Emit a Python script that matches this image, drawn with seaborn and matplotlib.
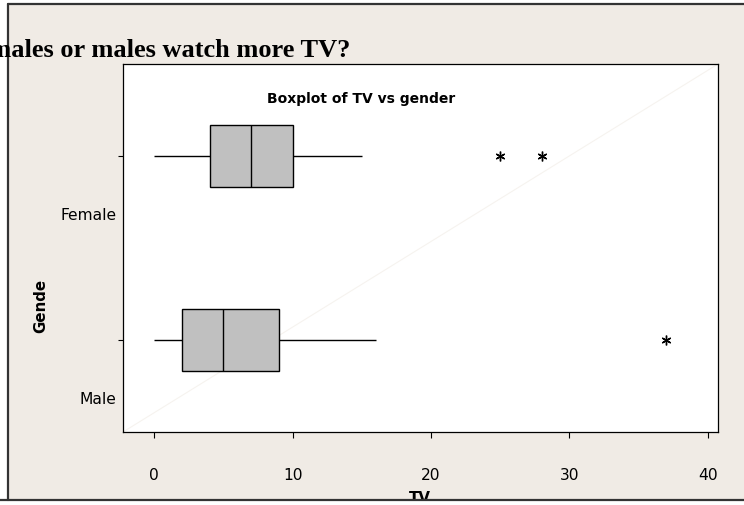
import numpy as np
import pandas as pd
import seaborn as sns
import matplotlib
matplotlib.use("Agg")
import matplotlib.pyplot as plt
from matplotlib.lines import Line2D
from matplotlib.patches import Rectangle

# ---- data ----
genders = ["Female", "Male"]
female_tv = [0, 2, 3, 4, 5, 6, 7, 8, 9, 10, 15, 25, 28]
male_tv = [0, 1, 1, 2, 3, 4, 5, 6, 8, 9, 12, 16, 37]
x_ticks = [0, 10, 20, 30, 40]

df = pd.DataFrame({
    "gender": ["Female"] * len(female_tv) + ["Male"] * len(male_tv),
    "TV": female_tv + male_tv,
})

sns.set_style("white")
plt.rcParams["font.family"] = ["DejaVu Sans"]
plt.rcParams["text.color"] = "black"

W, H = 744, 506
fig = plt.figure(figsize=(W / 100, H / 100), dpi=100)
fig.patch.set_facecolor("white")

def fx(px):
    return px / W

def fy(py):
    return 1 - py / H

# beige panel + frame
fig.patches.append(Rectangle((fx(8), fy(501)), 1 - fx(8), fy(5) - fy(501),
                             transform=fig.transFigure, facecolor="#f0ebe5",
                             edgecolor="none", zorder=-5))
fig.patches.append(Rectangle((0, 0), 1, fy(502), transform=fig.transFigure,
                             facecolor="white", edgecolor="none", zorder=9))
frame_kw = dict(transform=fig.transFigure, color="#333333", lw=1.6, zorder=10)
fig.lines.append(Line2D([fx(8), fx(8)], [fy(5), fy(501)], **frame_kw))
fig.lines.append(Line2D([fx(8), 1], [fy(5), fy(5)], **frame_kw))
fig.lines.append(Line2D([fx(0), 1], [fy(501), fy(501)], **frame_kw))

ax = fig.add_axes([fx(123), fy(433), fx(718) - fx(123), fy(65) - fy(433)])
ax.set_facecolor("white")
ax.plot([0, 1], [0, 1], transform=ax.transAxes, color="#f6f3ef", lw=0.8, zorder=0.5)

sns.boxplot(data=df, x="TV", y="gender", order=genders, orient="h", width=0.34,
            color="#c0c0c0", saturation=1, linecolor="black", linewidth=1.0,
            whis=1.5, showcaps=False,
            flierprops=dict(marker=(6, 2, 0), markersize=7,
                            markeredgecolor="black", markerfacecolor="black",
                            markeredgewidth=1.0),
            ax=ax)

ax.set_xlim(-2.26, 40.73)
ax.set_ylim(1.5, -0.5)
ax.set_xticks(x_ticks)
ax.set_xticklabels([str(t) for t in x_ticks])
ax.set_yticks([0, 1])
ax.set_yticklabels(["", ""])
ax.set_yticks([0.308, 1.308], minor=True)
ax.set_yticklabels(genders, minor=True)
ax.tick_params(axis="y", which="major", length=3.6, width=0.8, direction="out",
               left=True, color="black")
ax.tick_params(axis="y", which="minor", length=0, pad=4.5, labelsize=11.2,
               labelcolor="black")
ax.tick_params(axis="x", which="major", length=4.3, width=0.8, direction="out",
               bottom=True, pad=21, labelsize=11.2, color="black",
               labelcolor="black")
ax.set_xlabel("")
ax.set_ylabel("")
for s in ax.spines.values():
    s.set_visible(True)
    s.set_color("black")
    s.set_linewidth(0.9)

fig.text(fx(361), fy(103), "Boxplot of TV vs gender", ha="center", va="baseline",
         fontsize=10, fontweight="bold", color="black")
fig.text(fx(41), fy(306), "Gende", ha="center", va="center", rotation=90,
         fontsize=10.8, fontweight="bold", color="black")
fig.text(fx(420), fy(491), "TV", ha="center", va="top",
         fontsize=10.8, fontweight="bold", zorder=3, color="black")
fig.text(fx(350), fy(57), "Do females or males watch more TV?", ha="right",
         va="baseline", fontsize=19, fontweight="bold", color="black", zorder=11,
         family=["Liberation Serif", "DejaVu Serif"])

fig.savefig("out.png", dpi=100)
